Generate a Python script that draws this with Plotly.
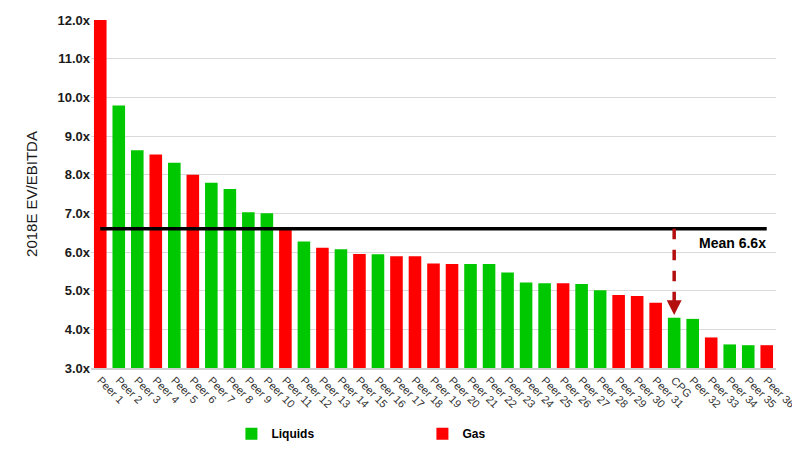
import plotly.graph_objects as go

categories = [f"Peer {i}" for i in range(1, 32)] + ["CPG"] + [f"Peer {i}" for i in range(32, 37)]
values = [12.0, 9.79, 8.63, 8.52, 8.31, 8.0, 7.79, 7.63, 7.03, 7.0,
          6.58, 6.27, 6.11, 6.07, 5.95, 5.94, 5.89, 5.89, 5.70, 5.69,
          5.69, 5.69, 5.47, 5.21, 5.19, 5.19, 5.17, 5.01, 4.89, 4.86,
          4.69, 4.30, 4.27, 3.79, 3.61, 3.59, 3.59]
types = ["G", "L", "L", "G", "L", "G", "L", "L", "L", "L",
         "G", "L", "G", "L", "G", "L", "G", "G", "G", "G",
         "L", "L", "L", "L", "L", "G", "L", "L", "G", "G",
         "G", "L", "L", "G", "L", "L", "G"]
mean_value = 6.6
mean_label = "Mean 6.6x"
highlight = "CPG"
y_ticks = [3, 4, 5, 6, 7, 8, 9, 10, 11, 12]
y_base = 3.0

GREEN = "#00c800"
RED = "#ff0000"
ARROW = "#b40f0f"

liq = [v - y_base if t == "L" else None for v, t in zip(values, types)]
gas = [v - y_base if t == "G" else None for v, t in zip(values, types)]

fig = go.Figure()
fig.add_trace(go.Bar(x=categories, y=liq, name="<b>Liquids</b>", marker_color=GREEN,
                     marker_line_width=0, base=y_base))
fig.add_trace(go.Bar(x=categories, y=gas, name="<b>Gas</b>", marker_color=RED,
                     marker_line_width=0, base=y_base))

# mean line
fig.add_trace(go.Scatter(x=[categories[0], categories[-1]], y=[mean_value, mean_value],
                         mode="lines", line=dict(color="black", width=3.5),
                         showlegend=False, hoverinfo="skip"))

hv = values[categories.index(highlight)]
# dashed arrow shaft
fig.add_trace(go.Scatter(x=[highlight, highlight], y=[mean_value, hv + 0.33],
                         mode="lines", line=dict(color=ARROW, width=3.5, dash="dash"),
                         showlegend=False, hoverinfo="skip"))
fig.add_annotation(x=highlight, y=hv + 0.07, ax=highlight, ay=hv + 0.40,
                   xref="x", yref="y", axref="x", ayref="y",
                   showarrow=True, arrowhead=2, arrowsize=0.85, arrowwidth=3.5,
                   arrowcolor=ARROW, text="")
fig.add_annotation(x=0.988, y=mean_value - 0.12, xref="paper", yref="y",
                   xanchor="right", yanchor="top", showarrow=False,
                   text="<b>" + mean_label + "</b>",
                   font=dict(family="Liberation Sans Narrow, Arial", size=14, color="black"))

fig.update_layout(
    width=792, height=444,
    margin=dict(l=83, r=24, t=12, b=84, autoexpand=False),
    barmode="overlay", bargap=0.32,
    plot_bgcolor="white", paper_bgcolor="white",
    font=dict(family="Liberation Sans, Arial", color="#1a1a1a"),
    showlegend=True,
    legend=dict(orientation="h", x=0.205, xanchor="left", y=-0.147, yanchor="top",
                entrywidth=146, font=dict(size=12, color="black"),
                traceorder="normal"),
    xaxis=dict(tickangle=45, tickfont=dict(size=11, color="#333333"),
               showline=True, linecolor="#d0d0d0", linewidth=1.5,
               showgrid=False, ticks="", automargin=False),
    yaxis=dict(range=[3, 12], tickvals=y_ticks,
               ticktext=[f"<b>{v:.1f}x</b>" for v in y_ticks],
               tickfont=dict(size=13, color="#1a1a1a"),
               showgrid=True, gridcolor="#d9d9d9", gridwidth=1.2,
               zeroline=False, showline=False, automargin=False,
               title=dict(text="2018E EV/EBITDA", font=dict(size=15, color="#1a1a1a"), standoff=16)),
)

fig.write_html("out.html")
